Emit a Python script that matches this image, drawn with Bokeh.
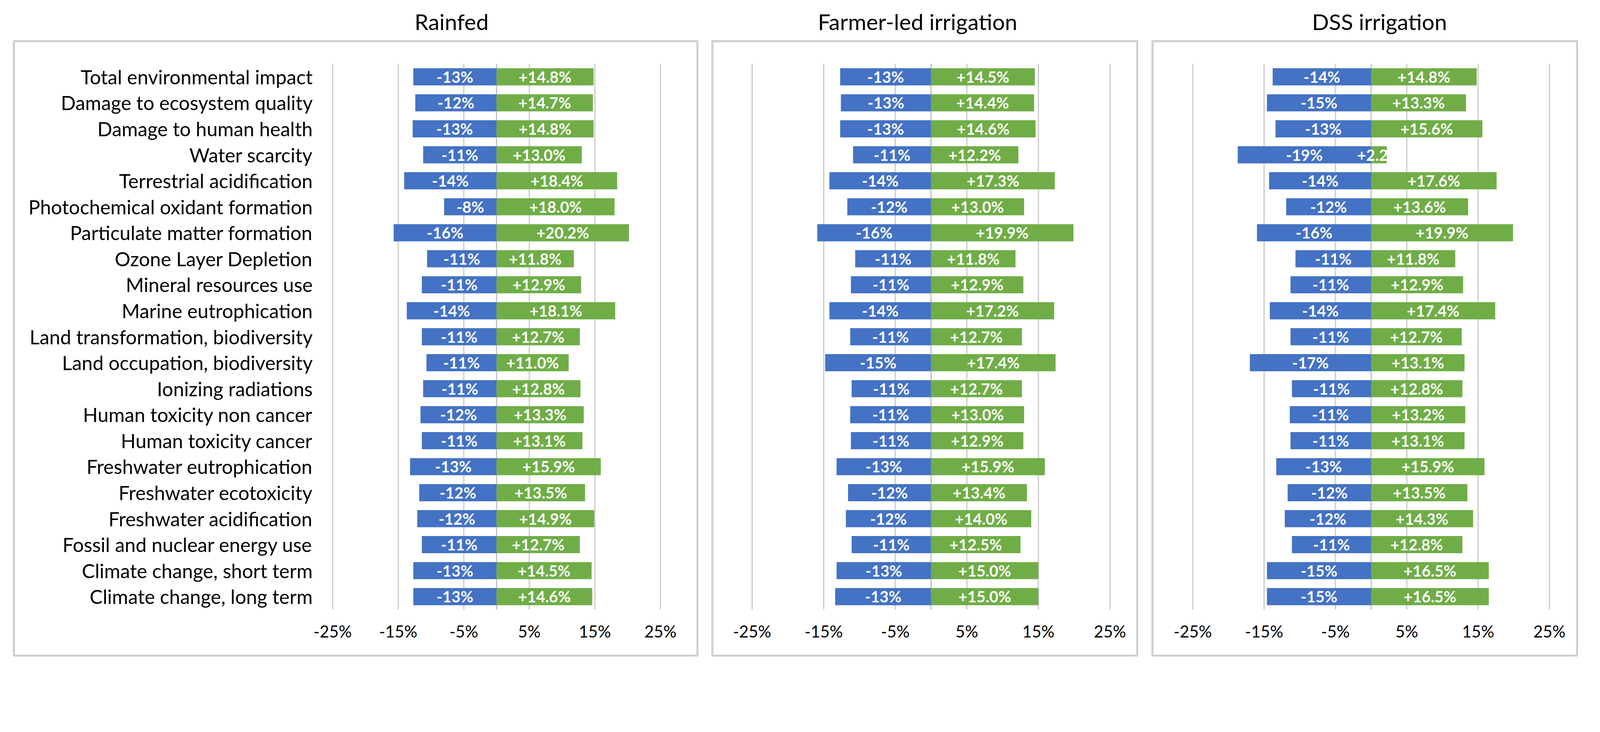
from bokeh.plotting import figure
from bokeh.models import (Range1d, FixedTicker, PrintfTickFormatter,
                          ColumnDataSource, Div, Spacer)
from bokeh.layouts import row, column
from bokeh.core.properties import value
from bokeh.embed import file_html
from bokeh.resources import INLINE

# ---------------- data ----------------
categories = [
    "Total environmental impact",
    "Damage to ecosystem quality",
    "Damage to human health",
    "Water scarcity",
    "Terrestrial acidification",
    "Photochemical oxidant formation",
    "Particulate matter formation",
    "Ozone Layer Depletion",
    "Mineral resources use",
    "Marine eutrophication",
    "Land transformation, biodiversity",
    "Land occupation, biodiversity",
    "Ionizing radiations",
    "Human toxicity non cancer",
    "Human toxicity cancer",
    "Freshwater eutrophication",
    "Freshwater ecotoxicity",
    "Freshwater acidification",
    "Fossil and nuclear energy use",
    "Climate change, short term",
    "Climate change, long term",
]

panel_titles = ["Rainfed", "Farmer-led irrigation", "DSS irrigation"]

rainfed_decrease = [-12.7, -12.4, -12.8, -11.2, -14.1, -8.0, -15.7, -10.6, -11.4, -13.7,
                    -11.4, -10.7, -11.2, -11.6, -11.4, -13.2, -11.8, -12.1, -11.4, -12.7, -12.7]
rainfed_increase = [14.8, 14.7, 14.8, 13.0, 18.4, 18.0, 20.2, 11.8, 12.9, 18.1,
                    12.7, 11.0, 12.8, 13.3, 13.1, 15.9, 13.5, 14.9, 12.7, 14.5, 14.6]

farmer_decrease = [-12.7, -12.6, -12.7, -10.9, -14.2, -11.7, -15.9, -10.6, -11.2, -14.2,
                   -11.3, -14.8, -11.1, -11.3, -11.2, -13.2, -11.6, -11.9, -11.1, -13.2, -13.4]
farmer_increase = [14.5, 14.4, 14.6, 12.2, 17.3, 13.0, 19.9, 11.8, 12.9, 17.2,
                   12.7, 17.4, 12.7, 13.0, 12.9, 15.9, 13.4, 14.0, 12.5, 15.0, 15.0]

dss_decrease = [-13.8, -14.6, -13.4, -18.7, -14.3, -11.9, -16.0, -10.6, -11.3, -14.2,
                -11.3, -17.0, -11.1, -11.4, -11.3, -13.3, -11.7, -12.1, -11.1, -14.6, -14.6]
dss_increase = [14.8, 13.3, 15.6, 2.2, 17.6, 13.6, 19.9, 11.8, 12.9, 17.4,
                12.7, 13.1, 12.8, 13.2, 13.1, 15.9, 13.5, 14.3, 12.8, 16.5, 16.5]

tick_values = [-25, -15, -5, 5, 15, 25]
x_min, x_max = -25, 25

# ---------------- style / layout ----------------
FONT = "Lato"
BLUE = "#4472C4"
GREEN = "#70AD47"
GRID = "#D0D0D0"
ZERO = "#BFBFBF"
FRAME = "#CFCFCF"
PANEL_H = 1580        # chart box height (css px)
HEAD_H = 92           # title strip height
INSET = 3             # frame line centre from the box edge
PLOT_TOP, PLOT_BOTTOM = 61, 121   # plot area offsets inside the box

N = len(categories)
y_pos = [N - 1 - i for i in range(N)]          # top category drawn highest
band_lo, band_hi = -0.5, N - 0.5


def make_panel(title, neg, pos, show_labels, width, a_px, b_px, title_shift):
    # a_px / b_px: where -25% and +25% sit, measured from the box's left edge
    px_per_unit = (b_px - a_px) / (x_max - x_min)
    x_lo = x_min - (a_px - INSET) / px_per_unit
    x_hi = x_max + ((width - INSET) - b_px) / px_per_unit
    unit_h = (PANEL_H - PLOT_TOP - PLOT_BOTTOM) / N
    y_hi = band_hi + (PLOT_TOP - INSET) / unit_h
    y_lo = band_lo - (PLOT_BOTTOM - INSET) / unit_h

    p = figure(width=width, height=PANEL_H,
               x_range=Range1d(x_lo, x_hi), y_range=Range1d(y_lo, y_hi),
               output_backend="svg", toolbar_location=None, min_border=INSET)
    p.background_fill_color = "white"
    p.border_fill_color = "white"
    p.outline_line_color = FRAME
    p.outline_line_width = 5.5
    p.xgrid.visible = False
    p.ygrid.visible = False

    # vertical grid lines and zero line, limited to the plot area
    p.segment(x0=tick_values, x1=tick_values, y0=band_lo, y1=band_hi,
              line_color=GRID, line_width=3.5)
    p.segment(x0=[0], x1=[0], y0=band_lo, y1=band_hi, line_color=ZERO, line_width=3)

    # x axis (labels pulled up inside the chart box)
    p.xaxis.ticker = FixedTicker(ticks=tick_values)
    p.xaxis.formatter = PrintfTickFormatter(format="%d%%")
    p.xaxis.axis_line_color = None
    p.xaxis.major_tick_line_color = None
    p.xaxis.major_tick_out = 0
    p.xaxis.major_tick_in = 0
    p.xaxis.minor_tick_line_color = None
    p.xaxis.major_label_text_font = FONT
    p.xaxis.major_label_text_font_size = "42px"
    p.xaxis.major_label_text_color = "#000000"
    p.xaxis.major_label_standoff = -88

    # y axis with category names (first panel only)
    if show_labels:
        p.yaxis.ticker = FixedTicker(ticks=y_pos)
        p.yaxis.major_label_overrides = {y: c for y, c in zip(y_pos, categories)}
        p.yaxis.axis_line_color = None
        p.yaxis.major_tick_line_color = None
        p.yaxis.major_tick_out = 0
        p.yaxis.major_tick_in = 0
        p.yaxis.minor_tick_line_color = None
        p.yaxis.major_label_text_font = FONT
        p.yaxis.major_label_text_font_size = "50px"
        p.yaxis.major_label_text_color = "#000000"
        p.yaxis.major_label_standoff = -765
    else:
        p.yaxis.visible = False

    src = ColumnDataSource(dict(
        y=y_pos,
        neg=neg, pos=pos,
        neg_mid=[v / 2 for v in neg], pos_mid=[v / 2 for v in pos],
        neg_label=[f"{v:.0f}%" for v in neg],
        pos_label=[f"+{v:.1f}%" for v in pos],
    ))
    p.hbar(y="y", left="neg", right=0, height=0.66, source=src,
           fill_color=BLUE, line_color=None)
    p.hbar(y="y", left=0, right="pos", height=0.66, source=src,
           fill_color=GREEN, line_color=None)
    for xcol, tcol in (("neg_mid", "neg_label"), ("pos_mid", "pos_label")):
        p.text(x=xcol, y="y", text=tcol, source=src,
               text_align="center", text_baseline="middle",
               text_color="white", text_font=value(FONT),
               text_font_style="bold", text_font_size="40px")

    head = Div(text=(f'<div style="width:{width}px;text-align:center;font-family:Lato;'
                     f'font-size:57px;line-height:84px;padding-top:8px;position:relative;'
                     f'left:{title_shift}px;color:#000;white-space:nowrap">{title}</div>'),
               width=width, height=HEAD_H)
    return column(head, p, spacing=0)


c1 = make_panel(panel_titles[0], rainfed_decrease, rainfed_increase, True, 1756, 819.2, 1658.2, 241)
c2 = make_panel(panel_titles[1], farmer_decrease, farmer_increase, False, 1094, 105, 1021, -23)
c3 = make_panel(panel_titles[2], dss_decrease, dss_increase, False, 1093, 106, 1019, 33)

layout = row(Spacer(width=32), c1, Spacer(width=22), c2, Spacer(width=23), c3, spacing=0)

open("out.html", "w").write(file_html(layout, INLINE))
